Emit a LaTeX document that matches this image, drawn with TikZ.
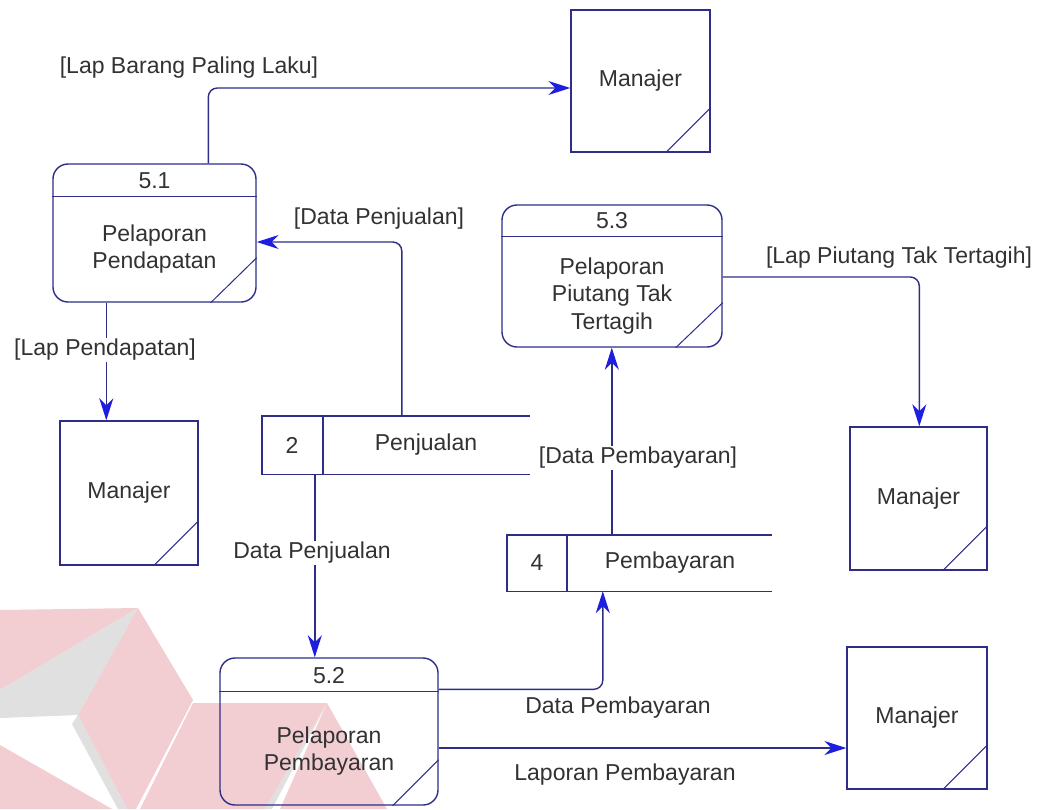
\documentclass[tikz,border=0pt]{standalone}
\usepackage{fontspec}
\setmainfont{Liberation Sans}
\usetikzlibrary{arrows.meta,calc}
\definecolor{linec}{RGB}{46,46,136}
\definecolor{arrowc}{RGB}{30,30,225}
\definecolor{txtc}{RGB}{50,50,50}
\definecolor{wmpink}{RGB}{242,206,210}
\definecolor{wmgrey}{RGB}{224,224,224}
\newcommand{\dfdfont}{\fontsize{23}{27.5}\selectfont}
\tikzset{
  proc/.style={draw=linec, line width=1.4pt, rounded corners=15pt, inner sep=0pt},
  ent/.style={draw=linec, line width=1.4pt, inner sep=0pt, text=txtc, font=\dfdfont},
  store/.style={inner sep=0pt},
  storeline/.style={draw=linec, line width=1.4pt},
  sep/.style={draw=linec, line width=1.4pt},
  corner/.style={draw=linec, line width=1pt},
  lbl/.style={text=txtc, font=\dfdfont, inner sep=1.5pt, align=center},
  flow/.style={draw=linec, line width=1.4pt, rounded corners=9pt,
    -{Stealth[length=22pt, width=14pt, inset=7pt, color=arrowc]}},
}
\begin{document}
\begin{tikzpicture}[x=1pt,y=-1pt]
\useasboundingbox (0,0) rectangle (1040,809);
\fill[white] (0,0) rectangle (1040,809);

% faint logo in the lower left corner
\fill[wmpink] (0,610) -- (138,608) -- (0,690) -- cycle;
\fill[wmgrey] (0,690) -- (138,608) -- (78,715) -- (0,718) -- cycle;
\fill[wmpink] (138,608) -- (193,700) -- (136,809) -- (127,809) -- (78,715) -- cycle;
\fill[wmgrey] (78,715) -- (127,809) -- (118,809) -- (72,724) -- cycle;
\fill[wmpink] (0,745) -- (112,809) -- (0,809) -- cycle;
\fill[wmpink] (193,703) -- (327,703) -- (265,809) -- (140,809) -- cycle;
\fill[wmgrey] (327,703) -- (272,809) -- (265,809) -- cycle;
\fill[wmpink] (327,703) -- (387,809) -- (280,809) -- cycle;

% external entities
\node[ent, minimum width=139pt, minimum height=142pt] (m1) at (640.5,81) {Manajer};
\node[ent, minimum width=138pt, minimum height=144pt] (m2) at (129,493) {Manajer};
\node[ent, minimum width=137pt, minimum height=143pt] (m3) at (918.5,498.5) {Manajer};
\node[ent, minimum width=140pt, minimum height=142pt] (m4) at (917,718) {Manajer};
\foreach \e in {m1,m2,m3,m4}
  \draw[corner] ($(\e.south east)+(-45,0)$) -- ($(\e.south east)+(0,-45)$);

% processes
\node[proc, minimum width=203pt, minimum height=138pt] (p51) at (154.5,233) {};
\draw[sep] ($(p51.north west)+(0,33)$) -- ($(p51.north east)+(0,33)$);
\node[lbl] (p51id) at (154.5,181) {5.1};
\node[lbl] (p51name) at (154.5,249) {Pelaporan\\Pendapatan};
\draw[corner] ($(p51.south east)+(-46,0)$) -- ($(p51.south east)+(0,-45)$);

\node[proc, minimum width=218pt, minimum height=147pt] (p52) at (329,731.5) {};
\draw[sep] ($(p52.north west)+(0,34)$) -- ($(p52.north east)+(0,34)$);
\node[lbl] (p52id) at (329,676) {5.2};
\node[lbl] (p52name) at (329,751) {Pelaporan\\Pembayaran};
\draw[corner] ($(p52.south east)+(-46,0)$) -- ($(p52.south east)+(0,-46)$);

\node[proc, minimum width=220pt, minimum height=142pt] (p53) at (612,276) {};
\draw[sep] ($(p53.north west)+(0,32)$) -- ($(p53.north east)+(0,32)$);
\node[lbl] (p53id) at (612,221) {5.3};
\node[lbl] (p53name) at (612,296) {Pelaporan\\Piutang Tak\\Tertagih};
\draw[corner] ($(p53.south east)+(-47,0)$) -- ($(p53.south east)+(0,-45)$);

% data stores
\node[store, minimum width=268pt, minimum height=58pt] (ds2) at (396,445) {};
\draw[storeline] (ds2.north east) -- (ds2.north west) -- (ds2.south west) -- (ds2.south east);
\draw[sep] ($(ds2.north west)+(61,0)$) -- ($(ds2.south west)+(61,0)$);
\node[lbl] (ds2id) at (292,445) {2};
\node[lbl] (ds2name) at (426,445) {Penjualan};

\node[store, minimum width=265pt, minimum height=56pt] (ds4) at (639.5,563) {};
\draw[storeline] (ds4.north east) -- (ds4.north west) -- (ds4.south west) -- (ds4.south east);
\draw[sep] ($(ds4.north west)+(60,0)$) -- ($(ds4.south west)+(60,0)$);
\node[lbl] (ds4id) at (537,563) {4};
\node[lbl] (ds4name) at (670,563) {Pembayaran};

% data flows
\coordinate (f1) at ($(p51.north west)+(156,0)$);
\draw[flow] (f1) |- ($(m1.west)+(0,7)$);

\coordinate (f2) at ($(ds2.north west)+(140,0)$);
\draw[flow] (f2) |- ($(p51.east)+(0,9)$);

\coordinate (f3) at ($(p51.south west)+(54,0)$);
\draw[flow] (f3) -- (f3 |- m2.north);

\coordinate (f4) at ($(ds2.south west)+(53,0)$);
\draw[flow] (f4) -- (f4 |- p52.north);

\coordinate (f5) at ($(p52.north east)+(0,32)$);
\draw[flow] (f5) -| ($(ds4.south west)+(96,0)$);

\coordinate (f6) at ($(p52.east)+(0,16.5)$);
\draw[flow] (f6) -- (f6 -| m4.west);

\coordinate (f7) at ($(ds4.north west)+(105,0)$);
\draw[flow] (f7) -- (f7 |- p53.south);

\coordinate (f8) at ($(p53.east)+(0,1)$);
\draw[flow] (f8) -| ($(m3.north west)+(70,0)$);

% flow labels
\node[lbl] (l1) at (189,68) {[Lap Barang Paling Laku]};
\node[lbl] (l2) at (379,219) {[Data Penjualan]};
\node[lbl, fill=white] (l3) at (105,350) {[Lap Pendapatan]};
\node[lbl, fill=white] (l4) at (312,553) {Data Penjualan};
\node[lbl, fill=white] (l5) at (638,458) {[Data Pembayaran]};
\node[lbl] (l6) at (899,258) {[Lap Piutang Tak Tertagih]};
\node[lbl] (l7) at (618,708) {Data Pembayaran};
\node[lbl] (l8) at (625,775) {Laporan Pembayaran};
\end{tikzpicture}
\end{document}
